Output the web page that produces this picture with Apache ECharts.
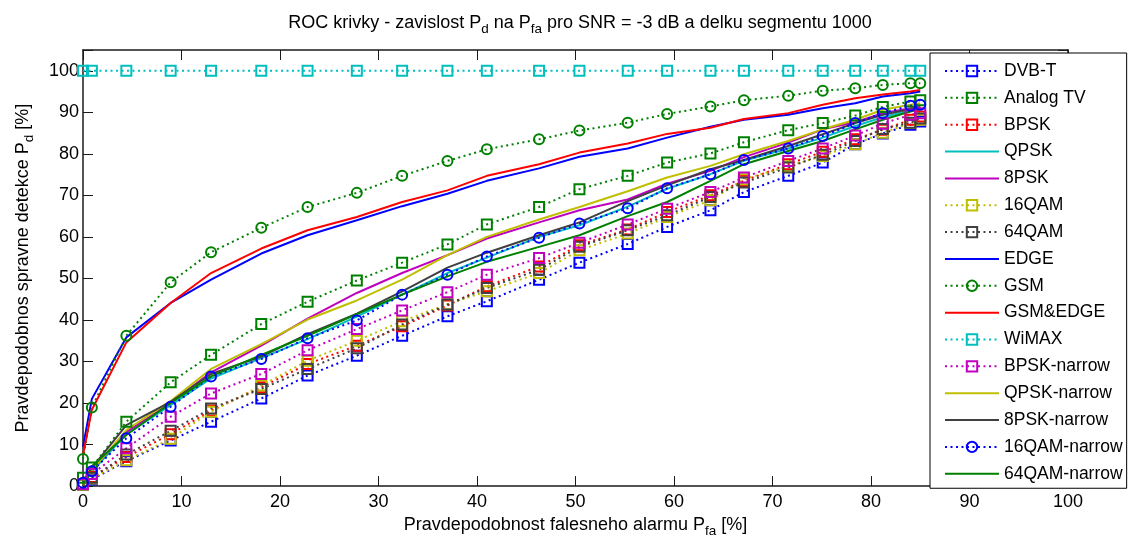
<!DOCTYPE html>
<html>
<head>
<meta charset="utf-8">
<script src="https://cdn.jsdelivr.net/npm/echarts@6/dist/echarts.min.js"></script>
<style>
  html, body { margin: 0; padding: 0; background: #fff; }
  #chart { width: 1128px; height: 543px; }
</style>
</head>
<body>
<div id="chart"></div>
<script>
// False-alarm probabilities (x positions shared by every curve), in %
const pfa = [0, 0.9, 4.4, 8.9, 13.0, 18.1, 22.8, 27.8, 32.4, 37.0, 41.0, 46.3, 50.4, 55.3, 59.3, 63.7, 67.1, 71.6, 75.1, 78.4, 81.2, 84.0, 85.0];

// Detection probabilities per signal type, in %
const dvbT        = [0.5, 1.6, 6.0, 11.0, 15.5, 21.1, 26.6, 31.4, 36.2, 40.9, 44.5, 49.7, 53.8, 58.3, 62.4, 66.4, 70.8, 74.7, 77.9, 82.3, 84.9, 87.0, 87.8];
const analogTV    = [2.0, 4.5, 15.5, 25.0, 31.6, 39.0, 44.4, 49.5, 53.8, 58.2, 63.0, 67.2, 71.5, 74.7, 77.9, 80.1, 82.8, 85.7, 87.4, 89.2, 91.3, 92.6, 92.9];
const bpsk        = [0.5, 2.2, 7.0, 12.5, 18.2, 23.8, 29.4, 33.8, 38.5, 43.5, 48.1, 52.9, 58.0, 61.8, 66.0, 70.0, 73.5, 77.5, 80.5, 83.5, 85.8, 88.2, 89.0];
const qpsk        = [0.6, 3.5, 12.5, 19.5, 25.9, 30.8, 35.4, 40.8, 46.1, 51.3, 55.0, 60.0, 62.8, 67.3, 71.6, 75.1, 78.3, 81.3, 83.9, 86.7, 88.8, 90.5, 91.0];
const psk8        = [0.6, 3.9, 13.0, 20.0, 27.4, 33.8, 40.3, 46.5, 51.3, 55.6, 59.6, 63.5, 66.4, 69.0, 72.8, 75.9, 79.2, 82.7, 85.9, 87.6, 89.8, 91.0, 91.6];
const qam16       = [0.3, 1.8, 6.2, 11.4, 17.9, 24.2, 30.2, 35.0, 39.7, 43.8, 46.9, 51.3, 56.8, 60.8, 64.8, 68.8, 73.9, 77.0, 79.5, 82.3, 85.1, 87.4, 88.2];
const qam64       = [0.4, 2.0, 7.6, 13.3, 18.7, 23.4, 28.2, 33.2, 38.9, 43.7, 47.7, 52.1, 57.6, 61.6, 65.2, 69.6, 73.1, 76.7, 79.8, 83.1, 86.0, 87.5, 88.5];
const edge        = [9.5, 21.0, 35.8, 44.1, 49.7, 56.0, 60.4, 64.0, 67.4, 70.4, 73.5, 76.5, 79.3, 81.3, 83.9, 86.5, 88.2, 89.4, 91.0, 92.2, 93.8, 94.6, 95.0];
const gsm         = [6.5, 18.9, 36.2, 49.1, 56.3, 62.2, 67.2, 70.6, 74.7, 78.3, 81.1, 83.5, 85.6, 87.5, 89.6, 91.4, 92.9, 94.0, 95.2, 95.8, 96.6, 97.0, 97.0];
const gsmEdge     = [7.5, 18.4, 34.6, 44.1, 51.3, 57.2, 61.6, 64.8, 68.4, 71.2, 74.7, 77.5, 80.3, 82.5, 84.8, 86.3, 88.4, 89.8, 91.8, 93.4, 94.3, 95.0, 95.4];
const wimax       = [100, 100, 100, 100, 100, 100, 100, 100, 100, 100, 100, 100, 100, 100, 100, 100, 100, 100, 100, 100, 100, 100, 100];
const bpskNarrow  = [0.5, 2.9, 9.1, 16.7, 22.3, 27.0, 32.7, 37.8, 42.3, 46.7, 50.9, 54.9, 58.6, 63.0, 66.8, 70.8, 74.3, 78.3, 81.3, 84.4, 87.3, 89.4, 89.8];
const qpskNarrow  = [0.5, 3.8, 13.5, 20.5, 28.2, 34.2, 40.1, 44.7, 49.7, 55.6, 60.0, 64.2, 67.2, 71.0, 74.3, 77.1, 79.9, 83.1, 85.9, 88.2, 90.6, 91.8, 92.2];
const psk8Narrow  = [0.7, 4.4, 14.7, 20.3, 27.0, 31.2, 36.6, 41.5, 46.9, 52.6, 56.2, 60.4, 63.5, 68.6, 72.4, 76.3, 78.5, 81.9, 84.7, 87.4, 89.4, 90.8, 91.2];
const qam16Narrow = [0.8, 3.6, 11.5, 19.1, 26.4, 30.6, 35.6, 39.9, 46.1, 50.9, 55.3, 59.8, 63.2, 66.9, 71.7, 75.1, 78.5, 81.3, 84.3, 87.4, 89.8, 91.6, 91.8];
const qam64Narrow = [0.8, 4.8, 12.3, 20.0, 26.4, 31.6, 36.2, 41.4, 46.1, 50.5, 54.0, 57.6, 60.4, 65.0, 68.4, 73.5, 77.5, 80.7, 83.1, 85.9, 88.2, 90.2, 90.7];

// Axis ticks
const xTicks = { min: 0, max: 100, interval: 10 };
const yTicks = { min: 0, max: 105, interval: 10, lastLabel: 100 };

const FONT = '"Liberation Sans", Arial, Helvetica, sans-serif';
const DOT = [2, 3.5];

// name, values, colour, marker ('rect' | 'circle' | null = plain solid line)
const curves = [
  ['DVB-T',        dvbT,        '#0000ff', 'rect'],
  ['Analog TV',    analogTV,    '#008000', 'rect'],
  ['BPSK',         bpsk,        '#ff0000', 'rect'],
  ['QPSK',         qpsk,        '#00bfbf', null],
  ['8PSK',         psk8,        '#bf00bf', null],
  ['16QAM',        qam16,       '#bfbf00', 'rect'],
  ['64QAM',        qam64,       '#404040', 'rect'],
  ['EDGE',         edge,        '#0000ff', null],
  ['GSM',          gsm,         '#008000', 'circle'],
  ['GSM&EDGE',     gsmEdge,     '#ff0000', null],
  ['WiMAX',        wimax,       '#00bfbf', 'rect'],
  ['BPSK-narrow',  bpskNarrow,  '#bf00bf', 'rect'],
  ['QPSK-narrow',  qpskNarrow,  '#bfbf00', null],
  ['8PSK-narrow',  psk8Narrow,  '#404040', null],
  ['16QAM-narrow', qam16Narrow, '#0000ff', 'circle'],
  ['64QAM-narrow', qam64Narrow, '#008000', null]
];

const series = curves.map(([name, vals, color, marker]) => {
  const s = {
    type: 'line',
    name: name,
    data: pfa.map((x, i) => [x, vals[i]]),
    animation: false,
    silent: true,
    lineStyle: { color: color, width: 2, type: marker ? DOT : 'solid' }
  };
  if (marker) {
    s.symbol = marker;
    s.symbolSize = 10;
    s.itemStyle = { color: 'none', borderColor: color, borderWidth: 2 };
  } else {
    s.symbol = 'none';
    s.itemStyle = { color: color };
  }
  return s;
});

const legendData = curves.map(([name, vals, color, marker]) => marker
  ? { name: name,
      itemStyle: { color: 'none', borderColor: color, borderWidth: 2 },
      lineStyle: { color: color, width: 2, type: DOT } }
  : { name: name,
      itemStyle: { opacity: 0 },
      lineStyle: { color: color, width: 2, type: 'solid' } });

const axisColor = '#1a1a1a';
const baseX = {
  type: 'value', min: xTicks.min, max: xTicks.max, interval: xTicks.interval,
  axisLine: { show: true, onZero: false, lineStyle: { color: axisColor, width: 1.5 } },
  axisTick: { show: true, inside: true, length: 10, lineStyle: { color: axisColor, width: 1 } },
  splitLine: { show: false }
};
const baseY = {
  type: 'value', min: yTicks.min, max: yTicks.max, interval: yTicks.interval,
  axisLine: { show: true, onZero: false, lineStyle: { color: axisColor, width: 1.5 } },
  axisTick: { show: true, inside: true, length: 10, lineStyle: { color: axisColor, width: 1 } },
  splitLine: { show: false }
};

const rich = {
  n: { fontSize: 18, fontFamily: FONT, fontWeight: 'normal', color: '#000' },
  s: { fontSize: 13.5, fontFamily: FONT, fontWeight: 'normal', color: '#000', padding: [12, 0, 0, 0] }
};

const chart = echarts.init(document.getElementById('chart'), null, { renderer: 'canvas' });
chart.setOption({
  animation: false,
  backgroundColor: '#fff',
  title: {
    text: '{n|ROC krivky - zavislost P}{s|d}{n| na P}{s|fa}{n| pro SNR = -3 dB a delku segmentu 1000}',
    left: 575, top: 5, textAlign: 'center',
    textStyle: { fontWeight: 'normal', rich: rich }
  },
  grid: { left: 83, right: 60, top: 50, bottom: 53 },
  xAxis: [
    Object.assign({}, baseX, {
      position: 'bottom',
      axisLabel: { fontSize: 18, fontFamily: FONT, color: '#000', margin: 7 },
      name: '{n|Pravdepodobnost falesneho alarmu P}{s|fa}{n| [%]}',
      nameLocation: 'middle', nameGap: 25,
      nameTextStyle: { rich: rich }
    }),
    Object.assign({}, baseX, { position: 'top', axisLabel: { show: false } })
  ],
  yAxis: [
    Object.assign({}, baseY, {
      position: 'left',
      axisLabel: {
        fontSize: 18, fontFamily: FONT, color: '#000', margin: 4,
        formatter: v => (v > yTicks.lastLabel ? '' : String(v))
      },
      name: '{n|Pravdepodobnos spravne detekce P}{s|d}{n| [%]}',
      nameLocation: 'middle', nameGap: 47, nameRotate: 90,
      nameTextStyle: { rich: rich }
    }),
    Object.assign({}, baseY, { position: 'right', axisLabel: { show: false } })
  ],
  legend: {
    orient: 'vertical',
    left: 930, top: 53,
    padding: [9, 4, 5.5, 14],
    itemWidth: 54, itemHeight: 13, itemGap: 8.85,
    backgroundColor: '#fff',
    borderColor: '#000', borderWidth: 1,
    selectedMode: false,
    textStyle: { fontSize: 17.5, fontFamily: FONT, color: '#000' },
    data: legendData
  },
  series: series
});
</script>
</body>
</html>
